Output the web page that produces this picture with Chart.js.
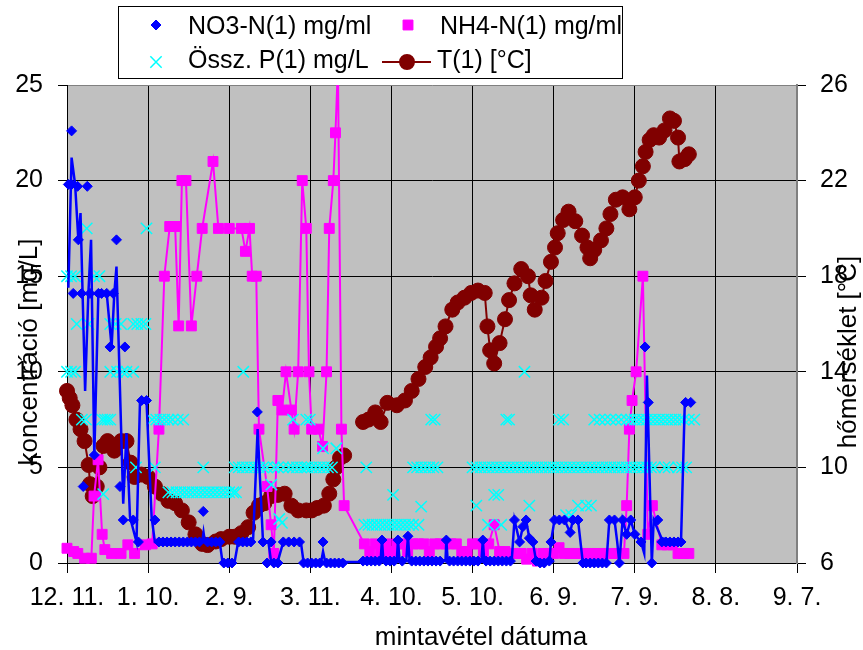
<!DOCTYPE html>
<html>
<head>
<meta charset="utf-8">
<title>koncentráció és hőmérséklet</title>
<script src="https://cdn.jsdelivr.net/npm/chart.js@4.4.1/dist/chart.umd.min.js"></script>
<style>
  html, body { margin: 0; padding: 0; background: #fff; }
  #wrap { width: 863px; height: 650px; }
</style>
</head>
<body>
<div id="wrap"><canvas id="chart" width="863" height="650"></canvas></div>
<script>
const FONT = '"Liberation Sans", Arial, sans-serif';

// x axis: days counted from 12. 11., one tick label every 30 days
const dateLabels = ["12. 11.", "1. 10.", "2. 9.", "3. 11.", "4. 10.", "5. 10.", "6. 9.", "7. 9.", "8. 8.", "9. 7."];

// T(1) [°C] (right axis); null = no measurement, line breaks there
const tempDays = [
  0, 1, 2, 3.5, 5, 6.5, 8, 8.5, 9.5, 11,
  12, 13.5, 15, 17.5, 20, 22, 23.5, 25, 27.5, 30,
  32.5, 35, 37.5, 40, 42.5, 45, 47.5, 50, 52, 55,
  57, 60, 62, 64.5, 67, 69, 71, 73, 75.5, 78,
  80.5, 83, 85.5, 88.5, 90.5, 92.5, 95, 97, 98.5, 99.5,
  101, 102.5, 106, 109.5, 111.5, 114, 116, 118.5, 122, 125,
  127.5, 130, 132.5, 134.5, 136.5, 138, 140, 142.5, 144.5, 147,
  149.5, 152, 154.5, 155.5, 156.5, 158, 160, 162, 163.5, 165.5,
  168, 170.5, 171.5, 173, 175.5, 177, 179, 180.5, 181.5, 183.5,
  185.5, 188, 190.5, 192.5, 193.5, 195, 197.5, 199.5, 201, 203,
  205.5, 208, 210, 211.5, 213, 214, 215.5, 217, 219, 221,
  223, 224.5, 226, 226.5, 228.5, 230
];
const tempValues = [
  13.2, 12.9, 12.6, 12.0, 11.6, 11.1, 10.1, 9.3, 8.8, 9.2,
  10.0, 10.9, 11.1, 10.7, 11.1, 11.1, 10.2, 9.6, 9.7, 9.6,
  9.2, 8.9, 8.6, 8.5, 8.2, 7.7, 7.2, 6.8, 6.75, 6.9,
  7.0, 7.1, 7.1, 7.25, 7.5, 8.1, 8.4, 8.5, 8.8, 8.85,
  8.9, 8.4, 8.2, 8.2, 8.2, 8.3, 8.4, 8.9, 9.5, 10.0,
  10.4, 10.5, null, 11.9, 12.0, 12.3, 11.9, 12.7, 12.6, 12.8,
  13.2, 13.7, 14.2, 14.6, 15.05, 15.4, 15.9, 16.6, 16.9, 17.1,
  17.3, 17.4, 17.3, 15.9, 14.9, 14.35, 15.2, 16.2, 17.0, 17.7,
  18.3, 18.0, 17.2, 16.6, 17.1, 17.8, 18.6, 19.2, 19.8, 20.35,
  20.7, 20.3, 19.7, 19.2, 18.75, 19.1, 19.5, 20.0, 20.6, 21.2,
  21.3, 20.8, 21.3, 22.0, 22.6, 23.2, 23.7, 23.9, 23.8, 24.1,
  24.6, 24.5, 23.8, 22.8, 22.9, 23.1
];

// NH4-N(1) mg/ml
const nh4Days = [
  0, 2.5, 4, 6.5, 9, 10, 11.5, 13, 14, 16.5,
  20, 22.5, 25, 29, 31.5, 34, 36, 38, 40, 41.3,
  42.5, 44, 46, 48, 50, 54, 56, 60, 64.5, 66,
  67.5, 68.5, 70, 71, 74, 75.5, 76.5, 78, 79.5, 81,
  83, 84, 85.5, 87, 88.5, 89.5, 90.5, 93, 94.5, 96,
  97, 98.5, 99.3, 100.2, 101.5, 102.5, 110, 112, 114, 116,
  118, 120, 122, 124, 126, 128, 130, 132, 134, 136,
  138, 140, 142, 144, 146, 148, 150, 152, 154, 156,
  158, 160, 162, 164, 166, 168, 170, 172, 174, 176,
  178, 180, 182, 184, 186, 188, 190, 192, 194, 196,
  198, 200, 202, 204, 206, 207, 208, 209, 210.5, 213,
  214.8, 216.5, 220, 222, 224, 226, 228, 230
];
const nh4Values = [
  0.77, 0.6, 0.5, 0.25, 0.25, 3.5, 5.4, 1.5, 0.7, 0.5,
  0.5, 0.95, 0.5, 0.95, 1.0, 7.0, 15.0, 17.6, 17.6, 12.4,
  20.0, 20.0, 12.4, 15.0, 17.5, 21.0, 17.5, 17.5, 17.5, 16.3,
  17.5, 15.0, 15.0, 7.0, 4.0, 2.0, 0.5, 8.5, 8.0, 10.0,
  8.0, 7.0, 10.0, 20.0, 17.5, 10.0, 7.0, 7.0, 6.1, 10.0,
  17.5, 20.0, 22.5, 26.0, 7.0, 3.0, 1.0, 0.6, 1.0, 0.5,
  1.0, 0.6, 1.0, 1.0, 0.6, 1.0, 1.0, 1.0, 0.6, 1.0,
  1.0, 1.0, 1.0, 1.0, 0.6, 0.6, 1.0, 1.0, 0.6, 1.0,
  2.0, 0.6, 0.6, 0.5, 0.5, 0.5, 0.2, 0.5, 0.1, 0.5,
  0.5, 0.5, 0.8, 0.5, 0.5, 0.5, 0.5, 0.5, 0.5, 0.5,
  0.5, 0.5, 0.5, 0.5, 0.5, 3.0, 7.0, 8.5, 10.0, 15.0,
  1.5, 3.0, 0.95, 0.95, 0.95, 0.5, 0.5, 0.5
];

// NO3-N(1) mg/ml, markers
const no3Days = [
  0.5, 1.7, 1.7, 3.9, 7.5, 4.2, 18.3, 2.3, 5.4, 8.5,
  11.6, 12.8, 14.7, 17.1, 15.9, 21.4, 10.1, 6, 19.6, 20.8,
  24.5, 27.6, 29.4, 26.4, 32.5, 34, 35.5, 37, 38.5, 40,
  41.5, 43, 44.5, 46, 47.5, 49, 50.4, 52, 53.5, 55,
  56.5, 58, 59.5, 61, 63.5, 65, 66.5, 68, 70.4, 72.5,
  74, 75.5, 76.5, 78, 80, 82, 84, 86, 87.5, 89,
  90.5, 92, 93.5, 94.7, 96, 97.5, 99, 100.5, 102, 109.5,
  111, 112.5, 114, 115.5, 116.5, 118, 119.5, 121, 122.4, 124,
  126.1, 127.5, 129, 130.5, 132, 133.5, 135, 136.5, 138, 140.3,
  141.5, 143, 144.5, 146, 147.5, 149, 150.5, 152, 153.8, 155,
  156.5, 158, 159.5, 161, 162.5, 164, 165.5, 167.4, 168.6, 169.8,
  171, 172.3, 173.5, 175, 176.5, 178.4, 179, 180.3, 182.1, 184,
  186.1, 187.1, 189, 190.8, 192, 193.5, 195, 196.5, 198, 199.5,
  200.6, 202.5, 204.3, 205.5, 207, 208.5, 210, 212.3, 213.8, 215,
  216.3, 218.5, 220, 221.5, 223, 224.5, 226, 227.1, 228.8, 230.7
];
const no3Values = [
  19.8, 22.6, 19.8, 19.7, 19.7, 16.9, 16.9, 14.1, 14.1, 14.1,
  14.1, 14.1, 14.1, 14.1, 11.3, 11.3, 5.65, 4.0, 4.0, 2.25,
  2.25, 8.5, 8.5, 1.1, 2.25, 1.1, 1.1, 1.1, 1.1, 1.1,
  1.1, 1.1, 1.1, 1.1, 1.1, 1.1, 2.7, 1.1, 1.1, 1.1,
  1.1, 0, 0, 0, 1.1, 1.1, 1.1, 1.1, 7.9, 1.1,
  0, 1.1, 0, 0, 1.1, 1.1, 1.1, 1.1, 0, 0,
  0, 0, 0, 1.1, 0, 0, 0, 0, 0, 0.1,
  0.1, 0.1, 0.1, 0.1, 1.2, 0.1, 0.1, 0.1, 1.2, 0.1,
  1.4, 0.1, 0.1, 0.1, 0.1, 0.1, 0.1, 0.1, 0.1, 1.2,
  0.1, 0.1, 0.1, 0.1, 0.1, 0.1, 0.1, 0.1, 1.2, 0.1,
  0.1, 0.1, 0.1, 0.1, 0.1, 0.1, 2.25, 1.1, 1.9, 2.25,
  1.3, 1.1, 0.1, 0, 0, 0.1, 1.1, 2.25, 2.25, 2.25,
  1.6, 2.25, 2.25, 0, 0, 0, 0, 0, 0, 0,
  2.25, 2.25, 0, 2.25, 1.5, 2.25, 1.5, 1.1, 11.3, 8.4,
  0, 2.25, 1.1, 1.1, 1.1, 1.1, 1.1, 1.1, 8.4, 8.4
];

// NO3-N blue connecting line (drawn apart from the markers, as in the original)
const no3LineDays = [
  0.5, 1.7, 3, 4.2, 5, 6.7, 7.9, 8.9, 10.1, 11.6,
  14.7, 16.5, 17.5, 18.3, 20.8, 22, 23.3, 25.7, 27, 29.4,
  31.3, 32.5, 50, 50.5, 51, 56.5, 57.5, 62, 63.3, 68.8,
  70.5, 72.5, 74.5, 75.5, 78, 80, 86.5, 87.5, 94, 94.7,
  95.5, 109.5, 116, 116.5, 117, 122, 122.4, 123, 125.5, 126.1,
  126.7, 140, 140.3, 140.8, 153.3, 153.8, 154.3, 164.5, 165.5, 167.4,
  168.6, 169.8, 171, 172.3, 173.5, 178.4, 179, 180.3, 184, 186.1,
  187.1, 189, 190.8, 199.5, 200.6, 202.5, 203.5, 204.3, 205.5, 207,
  208.5, 210, 212.3, 213.5, 214.5, 216.3, 217, 219.9, 227.1, 228.5,
  230.7
];
const no3LineValues = [
  14.4, 21.2, 19.8, 16.9, 18.3, 9.0, 14.1, 16.9, 5.6, 14.1,
  14.1, 11.3, 14.1, 15.5, 3.1, 6.8, 2.4, 1.1, 8.5, 8.5,
  2.4, 1.1, 1.1, 1.6, 1.1, 1.1, 0.05, 0.05, 1.1, 1.1,
  7.0, 1.1, 1.1, 0.05, 0.1, 1.1, 1.1, 0.05, 0.05, 0.6,
  0.05, 0.05, 0.15, 1.2, 0.15, 0.15, 1.2, 0.15, 0.15, 1.4,
  0.15, 0.15, 1.2, 0.15, 0.15, 1.2, 0.15, 0.15, 2.25, 1.1,
  1.9, 2.25, 1.3, 1.1, 0.1, 0.1, 1.1, 2.25, 2.25, 1.6,
  2.25, 2.25, 0, 0, 2.25, 2.25, 1.1, 0, 2.25, 1.5,
  2.25, 1.5, 1.1, 0.5, 9.8, 0, 2.25, 1.3, 1.1, 8.4,
  8.4
];

// Össz. P(1) mg/L, markers only
const pDays = [
  7.3, 29.4,
  0, 1.5, 3, 10, 12,
  3.6, 8, 16, 18, 20, 24.5, 26, 27.5, 29,
  0, 1.5, 3, 16, 18.5, 20.5, 22, 24.5, 65.2, 169.2,
  5.5, 7, 13, 14, 15, 16, 31.5, 33, 34.5, 36,
  37.5, 39, 41, 43, 83.6, 88.5, 89.8, 134.7, 136, 162.5,
  163.5, 182, 183.5, 195, 197, 199, 201, 203, 205, 207,
  208.5, 210, 211.5, 213, 214.5, 216, 217.5, 219, 220.5, 222,
  223.5, 225, 226.5, 228, 230, 232,
  94.7, 99.6,
  25.5, 32.5, 50.4, 62, 63.5, 65, 66.5, 68, 69.5, 71,
  72.5, 74, 76.5, 78, 80, 82, 83.5, 85, 86.5, 88,
  89, 90.5, 92, 93.5, 95, 96.5, 98, 110.7, 128, 129.5,
  131, 132.5, 134, 135.5, 137, 150, 151.5, 153, 154.5, 156,
  157.5, 159, 160.5, 162, 163.5, 165, 166.5, 168, 169.5, 171,
  172.5, 174, 175.5, 177, 178.5, 180, 181.5, 183, 184.5, 186,
  187.5, 189, 190.5, 192, 193.5, 195, 196.5, 198, 199.5, 201,
  202.5, 204, 205.5, 207, 208.5, 210, 211.5, 213, 214.5, 216,
  217.5, 221, 222.5, 226, 227.5, 229,
  13.4, 37.5, 39, 40.5, 42, 43.5, 45, 46.5, 48, 49.5,
  51, 52.5, 54, 55.5, 57, 58.5, 60, 61.5, 62.5,
  75.6, 120.6, 158, 159.5, 131, 151.4, 171, 189, 192, 193.8,
  78.5, 184.6, 186.5, 79.5, 155.7, 160.6,
  110, 111.5, 113, 114.5, 116, 117.5, 119, 120.5, 122, 123.5,
  125, 126.5, 128, 130
];
const pValues = [
  17.5, 17.5,
  15, 15, 15, 15, 15,
  12.5, 12.5, 12.5, 12.5, 12.5, 12.5, 12.5, 12.5, 12.5,
  10, 10, 10, 10, 10, 10, 10, 10, 10, 10,
  7.5, 7.5, 7.5, 7.5, 7.5, 7.5, 7.5, 7.5, 7.5, 7.5,
  7.5, 7.5, 7.5, 7.5, 7.5, 7.5, 7.5, 7.5, 7.5, 7.5,
  7.5, 7.5, 7.5, 7.5, 7.5, 7.5, 7.5, 7.5, 7.5, 7.5,
  7.5, 7.5, 7.5, 7.5, 7.5, 7.5, 7.5, 7.5, 7.5, 7.5,
  7.5, 7.5, 7.5, 7.5, 7.5, 7.5,
  6, 6,
  5, 5, 5, 5, 5, 5, 5, 5, 5, 5,
  5, 5, 5, 5, 5, 5, 5, 5, 5, 5,
  5, 5, 5, 5, 5, 5, 5, 5, 5, 5,
  5, 5, 5, 5, 5, 5, 5, 5, 5, 5,
  5, 5, 5, 5, 5, 5, 5, 5, 5, 5,
  5, 5, 5, 5, 5, 5, 5, 5, 5, 5,
  5, 5, 5, 5, 5, 5, 5, 5, 5, 5,
  5, 5, 5, 5, 5, 5, 5, 5, 5, 5,
  5, 5, 5, 5, 5, 5,
  3.6, 3.7, 3.7, 3.7, 3.7, 3.7, 3.7, 3.7, 3.7, 3.7,
  3.7, 3.7, 3.7, 3.7, 3.7, 3.7, 3.7, 3.7, 3.7,
  4.1, 3.56, 3.56, 3.56, 2.95, 3.0, 3.0, 3.0, 3.0, 3.0,
  2.3, 2.5, 2.5, 2.1, 2.0, 2.0,
  2, 2, 2, 2, 2, 2, 2, 2, 2, 2,
  2, 2, 2, 2
];

const pts = (xs, ys) => xs.map((x, i) => ({ x, y: ys[i] }));

const BLUE = "#0000ff";
const MAGENTA = "#ff00ff";
const CYAN = "#00ffff";
const DARKRED = "#800000";
const edgeClip = { left: 12, right: 12, top: 0, bottom: 12 };

// gray plot area, like the spreadsheet original
const plotArea = {
  id: "plotArea",
  beforeDraw(chart) {
    const { ctx, chartArea: a } = chart;
    ctx.save();
    ctx.fillStyle = "#c0c0c0";
    ctx.fillRect(a.left, a.top, a.width, a.height);
    ctx.restore();
  },
};

// 2x2 framed legend and the axis titles, placed where the original has them
const legendAndTitles = {
  id: "legendAndTitles",
  afterDraw(chart) {
    const { ctx } = chart;
    const draw = Chart.helpers.drawPoint;
    ctx.save();
    ctx.fillStyle = "#fff";
    ctx.fillRect(118, 6, 505, 73);
    ctx.strokeStyle = "#000";
    ctx.lineWidth = 1;
    ctx.strokeRect(118.5, 6.5, 504, 72);

    ctx.fillStyle = BLUE; ctx.strokeStyle = BLUE;
    draw(ctx, { pointStyle: "rectRot", radius: 5, borderWidth: 1 }, 156, 25);
    ctx.fillStyle = MAGENTA; ctx.strokeStyle = MAGENTA;
    draw(ctx, { pointStyle: "rect", radius: 7, borderWidth: 1 }, 408, 25);
    ctx.strokeStyle = CYAN; ctx.lineWidth = 1.5;
    draw(ctx, { pointStyle: "crossRot", radius: 8, borderWidth: 1.5 }, 156, 62);
    ctx.strokeStyle = DARKRED; ctx.fillStyle = DARKRED; ctx.lineWidth = 2;
    ctx.beginPath(); ctx.moveTo(382, 62); ctx.lineTo(431, 62); ctx.stroke();
    draw(ctx, { pointStyle: "circle", radius: 7, borderWidth: 1 }, 407, 62);

    ctx.fillStyle = "#000";
    ctx.font = `25px ${FONT}`;
    ctx.textBaseline = "alphabetic";
    ctx.textAlign = "left";
    ctx.fillText(chart.data.datasets[0].label, 188, 34);
    ctx.fillText(chart.data.datasets[3].label, 440, 34);
    ctx.fillText(chart.data.datasets[2].label, 188, 68);
    ctx.fillText(chart.data.datasets[4].label, 437, 68);

    ctx.font = `26px ${FONT}`;
    ctx.textAlign = "center";
    ctx.fillText("mintavétel dátuma", 481, 645);
    ctx.save();
    ctx.translate(37, 352);
    ctx.rotate(-Math.PI / 2);
    ctx.fillText("koncentráció [mg/L]", 0, 0);
    ctx.restore();
    ctx.save();
    ctx.translate(856, 352);
    ctx.rotate(-Math.PI / 2);
    ctx.fillText("hőmérséklet [°C]", 0, 0);
    ctx.restore();
    ctx.restore();
  },
};

const tickFont = { family: FONT, size: 25 };

new Chart(document.getElementById("chart"), {
  type: "line",
  data: {
    datasets: [
      {
        label: "NO3-N(1) mg/ml",
        data: pts(no3Days, no3Values),
        showLine: false,
        pointStyle: "rectRot",
        pointRadius: 5,
        pointBackgroundColor: BLUE,
        pointBorderColor: BLUE,
        pointBorderWidth: 1,
        order: 0,
        clip: edgeClip,
      },
      {
        label: "NO3-N line",
        data: pts(no3LineDays, no3LineValues),
        borderColor: BLUE,
        borderWidth: 2.5,
        pointRadius: 0,
        tension: 0,
        order: 1,
        clip: edgeClip,
      },
      {
        label: "Össz. P(1) mg/L",
        data: pts(pDays, pValues),
        showLine: false,
        pointStyle: "crossRot",
        pointRadius: 8,
        pointBorderColor: CYAN,
        pointBorderWidth: 1.5,
        order: 2,
        clip: edgeClip,
      },
      {
        label: "NH4-N(1) mg/ml",
        data: pts(nh4Days, nh4Values),
        borderColor: MAGENTA,
        borderWidth: 2,
        pointStyle: "rect",
        pointRadius: 7,
        pointBackgroundColor: MAGENTA,
        pointBorderColor: MAGENTA,
        pointBorderWidth: 1,
        tension: 0,
        order: 3,
        clip: edgeClip,
      },
      {
        label: "T(1) [°C]",
        data: pts(tempDays, tempValues),
        yAxisID: "y1",
        borderColor: DARKRED,
        borderWidth: 2,
        pointStyle: "circle",
        pointRadius: 7.5,
        pointBackgroundColor: DARKRED,
        pointBorderColor: DARKRED,
        pointBorderWidth: 1,
        tension: 0,
        spanGaps: false,
        order: 4,
        clip: edgeClip,
      },
    ],
  },
  options: {
    responsive: false,
    animation: false,
    events: [],
    layout: { padding: { top: 85, left: 0, right: 0, bottom: 0 } },
    plugins: { legend: { display: false }, tooltip: { enabled: false } },
    scales: {
      x: {
        type: "linear",
        min: 0,
        max: 270,
        afterFit: (s) => { s.height = 87; },
        ticks: {
          stepSize: 30,
          autoSkip: false,
          maxRotation: 0,
          padding: 10,
          color: "#000",
          font: tickFont,
          callback: (v) => dateLabels[Math.round(v / 30)],
        },
        grid: {
          color: (c) => (c.tick && c.tick.value === 270 ? "#808080" : "#000"),
          tickColor: "#000",
          tickLength: 10,
          lineWidth: 1,
        },
        border: { color: "#000", width: 1 },
      },
      y: {
        position: "left",
        min: 0,
        max: 25,
        afterFit: (s) => { s.width = 67; },
        ticks: { stepSize: 5, padding: 15, color: "#000", font: tickFont },
        grid: {
          color: (c) => (c.tick && c.tick.value === 25 ? "#808080" : "#000"),
          tickColor: "#000",
          tickLength: 9,
          lineWidth: 1,
        },
        border: { color: "#000", width: 1 },
      },
      y1: {
        position: "right",
        min: 6,
        max: 26,
        afterFit: (s) => { s.width = 66; },
        ticks: { stepSize: 4, padding: 14, color: "#000", font: tickFont },
        grid: { drawOnChartArea: false, color: "#000", tickLength: 9 },
        border: { color: "#808080", width: 2 },
      },
    },
  },
  plugins: [plotArea, legendAndTitles],
});
</script>
</body>
</html>
